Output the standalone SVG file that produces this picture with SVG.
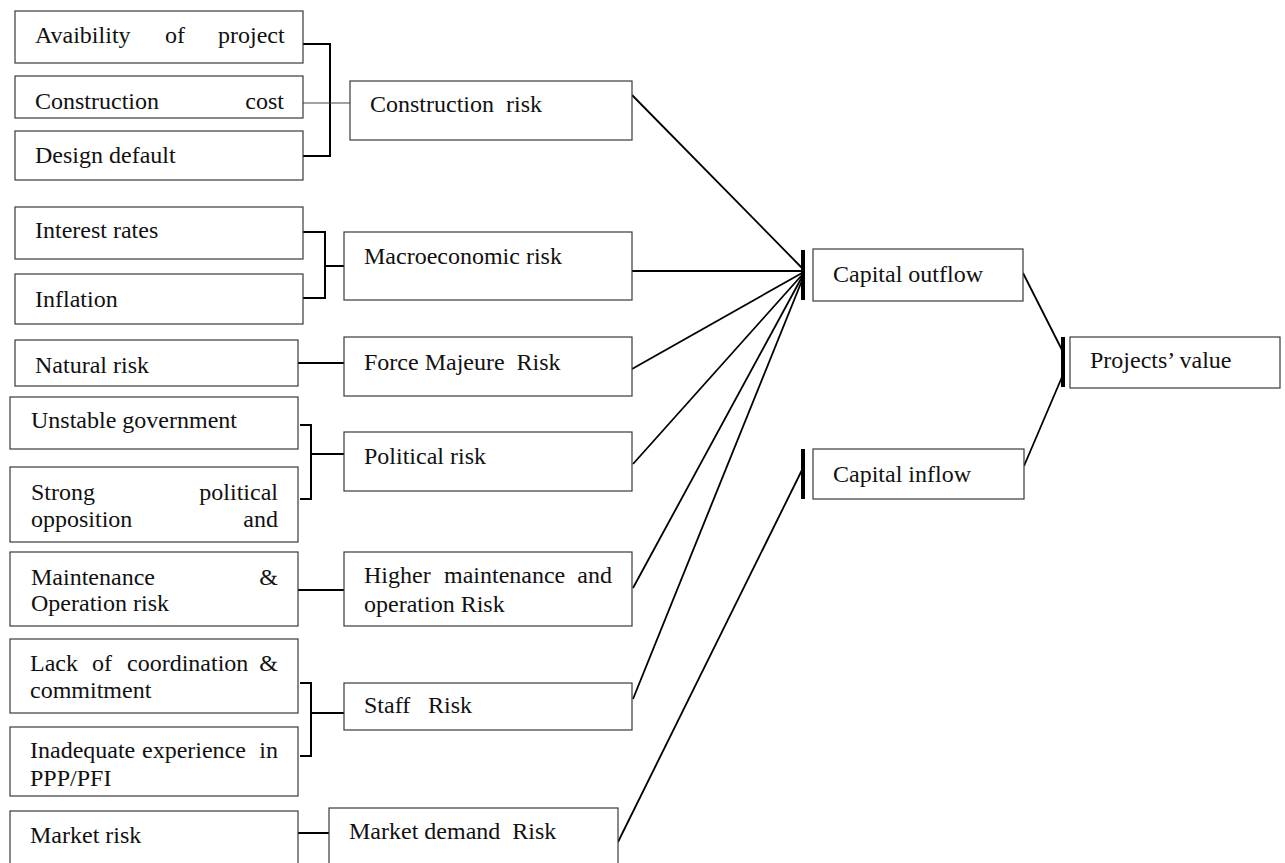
<svg xmlns="http://www.w3.org/2000/svg" width="1285" height="863" viewBox="0 0 1285 863">
<style>
  .box { fill: #ffffff; stroke: #3a3a3a; stroke-width: 1.2; }
  .t { font-family: "Liberation Serif", "Times New Roman", serif; font-size: 24px; fill: #111; }
  .br { fill: none; stroke: #000; stroke-width: 2; }
  .thin { fill: none; stroke: #444; stroke-width: 1.2; }
  .ln { fill: none; stroke: #000; stroke-width: 1.8; }
  .bar { stroke: #000; stroke-width: 4; }
</style>
<rect width="1285" height="863" fill="#ffffff"/>

<g id="connectors">
  <path class="br" d="M303,44 H330 V156 H303"/>
  <path class="thin" d="M303,103 H350"/>
  <path class="br" d="M303,232 H325 V298 H303 M325,266 H344"/>
  <path class="br" d="M298,363 H344"/>
  <path class="br" d="M300,425 H311 V499 H300 M311,454 H344"/>
  <path class="br" d="M298,590 H344"/>
  <path class="br" d="M300,683 H311 V756 H300 M311,713 H344"/>
  <path class="br" d="M298,833 H329"/>
  <path class="ln" d="M632,95 L802,268"/>
  <path class="ln" d="M632,271 L802,271"/>
  <path class="ln" d="M632,369 L802,273"/>
  <path class="ln" d="M633,464 L802,275"/>
  <path class="ln" d="M633,588 L802,277"/>
  <path class="ln" d="M633,699 L803,278"/>
  <path class="ln" d="M618,842 L802,470"/>
  <path class="ln" d="M1023,273 L1062,350"/>
  <path class="ln" d="M1024,466 L1062,377"/>
  <line class="bar" x1="803" y1="250" x2="803" y2="300"/>
  <line class="bar" x1="803" y1="449" x2="803" y2="499"/>
  <line class="bar" x1="1063" y1="337" x2="1063" y2="387"/>
</g>

<g id="n-avaibility">
  <rect class="box" x="15" y="11" width="288" height="52"/>
  <text class="t" y="43"><tspan x="35">Avaibility</tspan><tspan x="165">of</tspan><tspan x="218">project</tspan></text>
</g>
<g id="n-construction-cost">
  <rect class="box" x="15" y="76" width="288" height="42"/>
  <text class="t" y="109"><tspan x="35">Construction</tspan><tspan x="284" text-anchor="end">cost</tspan></text>
</g>
<g id="n-design-default">
  <rect class="box" x="15" y="131" width="288" height="49"/>
  <text class="t" x="35" y="163">Design default</text>
</g>
<g id="n-interest">
  <rect class="box" x="15" y="207" width="288" height="52"/>
  <text class="t" x="35" y="238">Interest rates</text>
</g>
<g id="n-inflation">
  <rect class="box" x="15" y="274" width="288" height="50"/>
  <text class="t" x="35" y="307">Inflation</text>
</g>
<g id="n-natural">
  <rect class="box" x="15" y="340" width="283" height="46"/>
  <text class="t" x="35" y="373">Natural risk</text>
</g>
<g id="n-unstable">
  <rect class="box" x="10" y="397" width="288" height="52"/>
  <text class="t" x="31" y="428">Unstable government</text>
</g>
<g id="n-strong">
  <rect class="box" x="10" y="467" width="288" height="75"/>
  <text class="t" y="500"><tspan x="31">Strong</tspan><tspan x="278" text-anchor="end">political</tspan></text>
  <text class="t" y="527"><tspan x="31">opposition</tspan><tspan x="278" text-anchor="end">and</tspan></text>
</g>
<g id="n-maintenance">
  <rect class="box" x="10" y="552" width="288" height="74"/>
  <text class="t" y="585"><tspan x="31">Maintenance</tspan><tspan x="278" text-anchor="end">&amp;</tspan></text>
  <text class="t" x="31" y="611">Operation risk</text>
</g>
<g id="n-lack">
  <rect class="box" x="10" y="639" width="288" height="74"/>
  <text class="t" y="671"><tspan x="30">Lack</tspan><tspan x="92">of</tspan><tspan x="127">coordination</tspan><tspan x="278" text-anchor="end">&amp;</tspan></text>
  <text class="t" x="30" y="698">commitment</text>
</g>
<g id="n-inadequate">
  <rect class="box" x="10" y="727" width="288" height="69"/>
  <text class="t" y="758"><tspan x="30">Inadequate</tspan><tspan x="142">experience</tspan><tspan x="278" text-anchor="end">in</tspan></text>
  <text class="t" x="30" y="786">PPP/PFI</text>
</g>
<g id="n-market">
  <rect class="box" x="10" y="811" width="288" height="70"/>
  <text class="t" x="30" y="843">Market risk</text>
</g>

<g id="n-construction-risk">
  <rect class="box" x="350" y="81" width="282" height="59"/>
  <text class="t" x="370" y="112" xml:space="preserve">Construction  risk</text>
</g>
<g id="n-macro">
  <rect class="box" x="344" y="232" width="288" height="68"/>
  <text class="t" x="364" y="264">Macroeconomic risk</text>
</g>
<g id="n-force">
  <rect class="box" x="344" y="337" width="288" height="59"/>
  <text class="t" x="364" y="370" xml:space="preserve">Force Majeure  Risk</text>
</g>
<g id="n-political">
  <rect class="box" x="344" y="432" width="288" height="59"/>
  <text class="t" x="364" y="464">Political risk</text>
</g>
<g id="n-higher">
  <rect class="box" x="344" y="552" width="288" height="74"/>
  <text class="t" y="583"><tspan x="364">Higher</tspan><tspan x="444">maintenance</tspan><tspan x="612" text-anchor="end">and</tspan></text>
  <text class="t" x="364" y="612">operation Risk</text>
</g>
<g id="n-staff">
  <rect class="box" x="344" y="683" width="288" height="47"/>
  <text class="t" y="713"><tspan x="364">Staff</tspan><tspan x="428">Risk</tspan></text>
</g>
<g id="n-market-demand">
  <rect class="box" x="329" y="808" width="289" height="70"/>
  <text class="t" x="349" y="839" xml:space="preserve">Market demand  Risk</text>
</g>

<g id="n-outflow">
  <rect class="box" x="813" y="249" width="210" height="52"/>
  <text class="t" x="833" y="282">Capital outflow</text>
</g>
<g id="n-inflow">
  <rect class="box" x="813" y="449" width="211" height="50"/>
  <text class="t" x="833" y="482">Capital inflow</text>
</g>
<g id="n-projects">
  <rect class="box" x="1070" y="337" width="210" height="51"/>
  <text class="t" x="1090" y="368">Projects’ value</text>
</g>
</svg>
